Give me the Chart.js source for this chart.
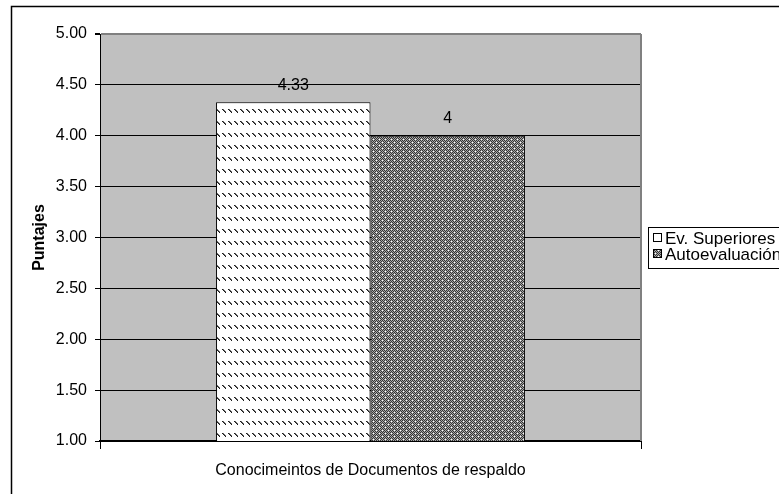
<!DOCTYPE html>
<html>
<head>
<meta charset="utf-8">
<script src="https://cdn.jsdelivr.net/npm/chart.js@4"></script>
<style>
  html, body { margin: 0; padding: 0; background: #ffffff; }
  canvas { display: block; }
</style>
</head>
<body>
<canvas id="chart" width="779" height="494"></canvas>
<script>
// Chart data
const categories = ['Conocimeintos de Documentos de respaldo'];
const seriesNames = ['Ev. Superiores', 'Autoevaluación'];
const evSuperiores = [4.33];
const autoevaluacion = [4];
const valueLabels = [['4.33'], ['4']];
const yTicks = [1.00, 1.50, 2.00, 2.50, 3.00, 3.50, 4.00, 4.50, 5.00];

const FONT = '"Liberation Sans", Arial, sans-serif';

// Fill patterns: dashed downward diagonal and a dense grey checker
function makeDashPattern(ctx) {
  const c = document.createElement('canvas');
  c.width = 6; c.height = 12;
  const g = c.getContext('2d');
  g.fillStyle = '#ffffff';
  g.fillRect(0, 0, 6, 12);
  g.fillStyle = '#1a1a1a';
  for (let i = 0; i < 4; i++) g.fillRect(i, 1 + i, 1, 1);
  g.fillStyle = '#6a6a6a';
  for (let i = 0; i < 3; i++) g.fillRect(i + 1, 1 + i, 1, 1);
  return ctx.createPattern(c, 'repeat');
}
function makeCheckPattern(ctx) {
  const c = document.createElement('canvas');
  c.width = 6; c.height = 6;
  const g = c.getContext('2d');
  for (let y = 0; y < 6; y++) {
    for (let x = 0; x < 6; x++) {
      g.fillStyle = ((x + y) % 2 === 0) ? '#343434' : '#a8a8a8';
      g.fillRect(x, y, 1, 1);
    }
  }
  g.fillStyle = '#ffffff';
  g.fillRect(1, 1, 1, 1);
  g.fillRect(4, 4, 1, 1);
  return ctx.createPattern(c, 'repeat');
}

const canvas = document.getElementById('chart');
const ctx = canvas.getContext('2d');
const dashPattern = makeDashPattern(ctx);
const checkPattern = makeCheckPattern(ctx);
const fills = [dashPattern, checkPattern];

// Outer frame, plot background and plot border
const framePlugin = {
  id: 'frame',
  beforeDraw(chart) {
    const c = chart.ctx;
    const a = chart.chartArea;
    c.save();
    c.fillStyle = '#ffffff';
    c.fillRect(0, 0, chart.width, chart.height);
    c.strokeStyle = '#000000';
    c.lineWidth = 1.5;
    c.strokeRect(11.5, 6.5, 790, 520);
    c.fillStyle = '#c0c0c0';
    c.fillRect(a.left, a.top, a.right - a.left, a.bottom - a.top);
    c.restore();
  },
  afterDatasetsDraw(chart) {
    const c = chart.ctx;
    const a = chart.chartArea;
    c.save();
    c.strokeStyle = '#808080';
    c.lineWidth = 2;
    c.beginPath();
    c.moveTo(a.right, a.top);
    c.lineTo(a.right, a.bottom);
    c.stroke();
    c.restore();
  }
};

// Value labels above each bar
const valueLabelPlugin = {
  id: 'valueLabels',
  afterDatasetsDraw(chart) {
    const c = chart.ctx;
    c.save();
    c.font = '16px ' + FONT;
    c.fillStyle = '#000000';
    c.textAlign = 'center';
    c.textBaseline = 'middle';
    chart.data.datasets.forEach((ds, di) => {
      const meta = chart.getDatasetMeta(di);
      meta.data.forEach((bar, i) => {
        c.fillText(valueLabels[di][i], bar.x, bar.y - 17);
      });
    });
    c.restore();
  }
};

// Boxed legend to the right of the plot
const legendBoxPlugin = {
  id: 'legendBox',
  afterDraw(chart) {
    const c = chart.ctx;
    const x = 648.5, y = 227.5, w = 160, h = 41;
    c.save();
    c.fillStyle = '#ffffff';
    c.fillRect(x, y, w, h);
    c.strokeStyle = '#000000';
    c.lineWidth = 1;
    c.strokeRect(x, y, w, h);
    c.font = '17px ' + FONT;
    c.textBaseline = 'middle';
    c.textAlign = 'left';
    seriesNames.forEach((name, i) => {
      const cy = 238 + i * 16;
      c.fillStyle = fills[i];
      c.fillRect(653, cy - 4, 8, 8);
      c.strokeStyle = '#000000';
      c.strokeRect(653.5, cy - 4.5, 8, 8);
      c.fillStyle = '#000000';
      c.fillText(name, 665, cy + 1);
    });
    c.restore();
  }
};

new Chart(ctx, {
  type: 'bar',
  data: {
    labels: categories,
    datasets: [
      {
        label: seriesNames[0],
        data: evSuperiores,
        backgroundColor: dashPattern,
        borderColor: '#000000',
        borderWidth: 1,
        categoryPercentage: 0.571,
        barPercentage: 1.0
      },
      {
        label: seriesNames[1],
        data: autoevaluacion,
        backgroundColor: checkPattern,
        borderColor: '#000000',
        borderWidth: 1,
        categoryPercentage: 0.571,
        barPercentage: 1.0
      }
    ]
  },
  options: {
    responsive: false,
    animation: false,
    events: [],
    layout: { padding: { left: 0, top: 34, right: 138, bottom: 0 } },
    plugins: {
      legend: { display: false },
      tooltip: { enabled: false }
    },
    scales: {
      x: {
        offset: true,
        grid: {
          display: true,
          drawOnChartArea: false,
          drawTicks: true,
          tickLength: 8,
          color: '#000000',
          lineWidth: 1
        },
        border: { display: true, color: '#000000', width: 2 },
        ticks: {
          color: '#000000',
          font: { family: FONT, size: 16 },
          padding: 12,
          maxRotation: 0
        },
        afterFit(scale) { scale.height = 53; }
      },
      y: {
        min: yTicks[0],
        max: yTicks[yTicks.length - 1],
        afterBuildTicks(scale) {
          scale.ticks = yTicks.map(v => ({ value: v }));
        },
        grid: {
          color: (c) => (c.tick && c.tick.value === 5 ? '#808080' : '#000000'),
          lineWidth: (c) => (c.tick && c.tick.value === 5 ? 2 : 1),
          drawTicks: true,
          tickLength: 5,
          tickColor: '#000000'
        },
        border: { display: true, color: '#000000', width: 1 },
        ticks: {
          color: '#000000',
          font: { family: FONT, size: 16 },
          padding: 8,
          callback: (v) => Number(v).toFixed(2)
        },
        title: {
          display: true,
          text: 'Puntajes',
          color: '#000000',
          font: { family: FONT, size: 16, weight: 'bold' },
          padding: { top: 30, bottom: 0 }
        },
        afterFit(scale) { scale.width = 100; }
      }
    }
  },
  plugins: [framePlugin, valueLabelPlugin, legendBoxPlugin]
});
</script>
</body>
</html>
